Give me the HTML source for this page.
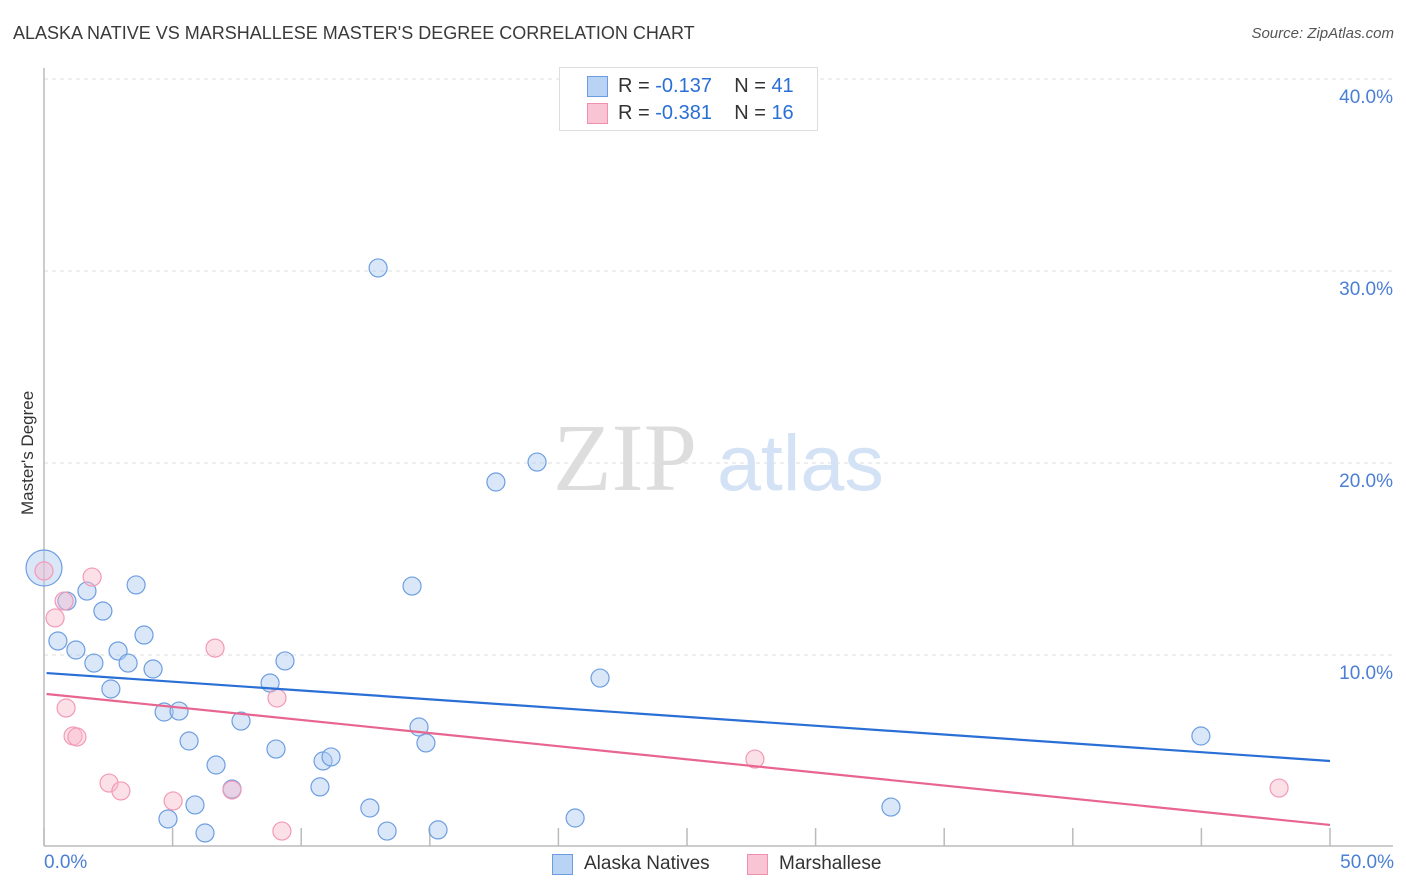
<!DOCTYPE html>
<html><head><meta charset="utf-8"><style>
body{margin:0;background:#fff;font-family:"Liberation Sans",sans-serif;}
#wrap{position:relative;width:1406px;height:892px;overflow:hidden;}
.t{position:absolute;white-space:nowrap;}
</style></head><body>
<div id="wrap">
<div class="t" style="left:13px;top:23px;font-size:18px;color:#3a3a3a;">ALASKA NATIVE VS MARSHALLESE MASTER'S DEGREE CORRELATION CHART</div>
<div class="t" style="right:12px;top:25px;font-size:15px;color:#555;font-style:italic;">Source: ZipAtlas.com</div>
<svg id="chart" width="1406" height="892" style="position:absolute;left:0;top:0"></svg>
</div>
<script>
const blueX=[0,0.89,1.67,3.58,2.29,3.89,0.54,1.24,2.88,1.94,3.27,4.24,2.60,4.67,5.25,5.64,7.66,9.02,6.69,7.31,5.87,4.82,6.26,8.79,9.37,10.73,10.85,11.16,12.67,13.34,14.58,14.85,15.32,14.31,12.99,17.57,19.17,21.62,20.65,32.93,44.98];
const blueY=[14.53,12.81,13.33,13.65,12.29,11.04,10.73,10.26,10.21,9.58,9.58,9.27,8.23,7.03,7.08,5.52,6.56,5.10,4.27,3.02,2.19,1.46,0.73,8.54,9.69,3.13,4.48,4.69,2.03,0.83,6.25,5.42,0.89,13.59,30.16,19.01,20.05,8.80,1.51,2.08,5.78];
const pinkX=[0,1.87,0.78,0.43,6.65,0.86,1.13,1.28,2.53,2.99,5.02,7.31,9.06,9.25,27.64,48.02];
const pinkY=[14.38,14.06,12.81,11.93,10.36,7.24,5.78,5.73,3.33,2.92,2.40,2.97,7.76,0.83,4.58,3.07];
const blueTrend=[9.06,4.48];
const pinkTrend=[7.97,1.15];
const yTicks=[10,20,30,40];
const yTickLabels=["10.0%","20.0%","30.0%","40.0%"];
const xTicks=[0,5,10,15,20,25,30,35,40,45,50];

const NS="http://www.w3.org/2000/svg";
const svg=document.getElementById('chart');
const X=v=>44+v*25.72, Y=v=>847-v*19.2;
function mk(tag,attrs,parent){const e=document.createElementNS(NS,tag);for(const k in attrs)e.setAttribute(k,attrs[k]);(parent||svg).appendChild(e);return e;}
yTicks.forEach((t,i)=>{
 const g=mk('line',{x1:44,x2:1393,y1:Y(t),y2:Y(t),stroke:'#ddd','stroke-dasharray':'4,4'});
 
 
 const l=mk('text',{x:1393,y:Y(t)+24,'text-anchor':'end','font-size':19,fill:'#4a7fd4','font-family':'Liberation Sans,sans-serif'});
 l.textContent=yTickLabels[i];
 
 
});
const ax=mk('line',{x1:44,x2:44,y1:68,y2:846,stroke:'#bbb','stroke-width':1.5});


const bx=mk('line',{x1:44,x2:1393,y1:846,y2:846,stroke:'#bbb','stroke-width':1.5});


xTicks.forEach(t=>{
 const k=mk('line',{x1:X(t),x2:X(t),y1:828,y2:846,stroke:'#bbb','stroke-width':1.5});
 
 
});
const wm=mk('text',{x:553,y:490,'font-size':96,fill:'#ddd','font-family':'Liberation Serif,serif'});wm.textContent='ZIP';


const wm2=mk('text',{x:717,y:490,'font-size':79,fill:'#d3e2f5','font-family':'Liberation Sans,sans-serif'});wm2.textContent='atlas';


function pts(xs,ys,fill,stroke,name){xs.forEach((x,i)=>{
 const r=(x===0&&name==='blue-point')?18:9;
 const c=mk('circle',{cx:X(x),cy:Y(ys[i]),r:r,fill:fill,stroke:stroke,'stroke-width':1.2});
 
 
});}
pts(blueX,blueY,'rgba(170,202,242,0.45)','#6e9ee0','blue-point');
pts(pinkX,pinkY,'rgba(248,186,205,0.45)','#f29ab6','pink-point');
const tb=mk('line',{x1:X(0.1),x2:X(50),y1:Y(blueTrend[0]),y2:Y(blueTrend[1]),stroke:'#2a6fd6','stroke-width':2.2});


const tp=mk('line',{x1:X(0.1),x2:X(50),y1:Y(pinkTrend[0]),y2:Y(pinkTrend[1]),stroke:'#e8658f','stroke-width':2.2});


</script>
<div class="t" style="left:-32px;top:445px;transform:rotate(-90deg);font-size:17px;color:#333;width:120px;text-align:center;">Master's Degree</div>
<div class="t" style="left:44px;top:852px;font-size:19px;color:#4a7fd4;">0.0%</div>
<div class="t" style="right:12px;top:852px;font-size:19px;color:#4a7fd4;">50.0%</div>
<div style="position:absolute;left:559px;top:67px;width:257px;height:62px;border:1px solid #ddd;background:#fff;font-size:20px;color:#333;">
 <div style="position:absolute;left:27px;top:8px;width:19px;height:19px;background:#b9d3f5;border:1px solid #6d9de0;"></div>
 <div class="t" style="left:58px;top:7px;">R = <span style="color:#2a6fd6">-0.137</span>&nbsp;&nbsp;&nbsp; N = <span style="color:#2a6fd6">41</span></div>
 <div style="position:absolute;left:27px;top:35px;width:19px;height:19px;background:#f9c5d5;border:1px solid #f08fae;"></div>
 <div class="t" style="left:58px;top:34px;">R = <span style="color:#2a6fd6">-0.381</span>&nbsp;&nbsp;&nbsp; N = <span style="color:#2a6fd6">16</span></div>
</div>
<div style="position:absolute;left:552px;top:854px;">
 <div style="position:absolute;left:0;top:0;width:19px;height:19px;background:#b9d3f5;border:1px solid #6d9de0;"></div>
 <div class="t" style="left:32px;top:-1px;font-size:19px;color:#333;">Alaska Natives</div>
</div>
<div style="position:absolute;left:747px;top:854px;">
 <div style="position:absolute;left:0;top:0;width:19px;height:19px;background:#f9c5d5;border:1px solid #f08fae;"></div>
 <div class="t" style="left:32px;top:-1px;font-size:19px;color:#333;">Marshallese</div>
</div>
</body></html>
